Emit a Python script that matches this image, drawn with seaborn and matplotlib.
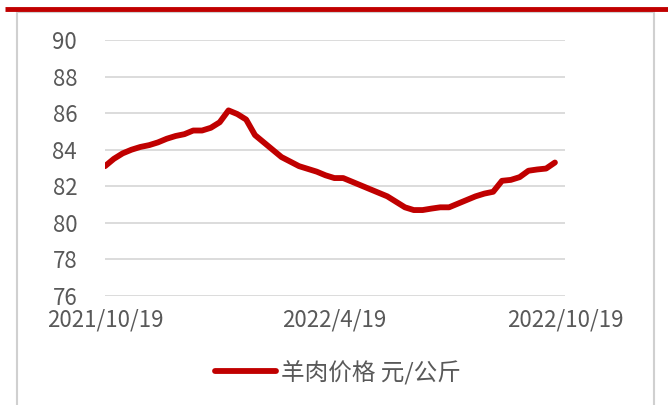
import matplotlib
matplotlib.use("Agg")
import matplotlib.pyplot as plt
import matplotlib.dates as mdates
import pandas as pd
import seaborn as sns

# weekly mutton price, yuan/kg
start_date = "2021-10-19"
prices = [83.1, 83.5, 83.8, 84.0, 84.15, 84.25, 84.4, 84.6, 84.75, 84.85,
          85.05, 85.05, 85.2, 85.5, 86.15, 85.95, 85.65, 84.8, 84.4, 84.0,
          83.6, 83.35, 83.1, 82.95, 82.8, 82.6, 82.45, 82.45, 82.25, 82.05,
          81.85, 81.65, 81.45, 81.15, 80.85, 80.7, 80.7, 80.78, 80.85, 80.85,
          81.05, 81.25, 81.45, 81.6, 81.7, 82.3, 82.35, 82.5, 82.85, 82.92,
          82.97, 83.3]
tick_dates = ["2021-10-19", "2022-04-19", "2022-10-19"]
tick_labels = ["2021/10/19", "2022/4/19", "2022/10/19"]
y_ticks = [76, 78, 80, 82, 84, 86, 88, 90]
series_name = "羊肉价格 元/公斤"

data = pd.DataFrame({
    "date": pd.date_range(start_date, periods=len(prices), freq="7D"),
    "price": prices,
})

sns.set_theme(style="white")
plt.rcParams["font.family"] = ["Noto Sans CJK SC", "DejaVu Sans"]

red = "#C00000"
grey_text = "#595959"

fig = plt.figure(figsize=(6.68, 4.05), dpi=100)
ax = fig.add_axes([105 / 668, 1 - 296 / 405, 460 / 668, 256 / 405])

sns.lineplot(data=data, x="date", y="price", ax=ax, color=red,
             linewidth=4.2, label=series_name, legend=False)

ax.set_ylim(76, 90)
ax.set_yticks(y_ticks)
ax.set_xlim(pd.Timestamp(tick_dates[0]), pd.Timestamp(tick_dates[-1]))
ax.set_xticks([mdates.date2num(pd.Timestamp(d)) for d in tick_dates])
ax.set_xticklabels(tick_labels)
ax.set_xlabel("")
ax.set_ylabel("")

ax.grid(axis="y", color="#D9D9D9", linewidth=1.3)
ax.set_axisbelow(True)
for side in ["top", "right", "bottom", "left"]:
    ax.spines[side].set_visible(False)
ax.tick_params(axis="y", length=0, pad=20, labelsize=16, labelcolor=grey_text)
ax.tick_params(axis="x", length=0, pad=9, labelsize=16, labelcolor=grey_text)

# outer frame and red header bar
frame = dict(color="#D0D0D0", linewidth=1.5)
fig.add_artist(plt.Line2D([17 / 668, 17 / 668], [0, 1 - 11 / 405], **frame))
fig.add_artist(plt.Line2D([654 / 668, 654 / 668], [0, 1 - 11 / 405], **frame))
fig.add_artist(plt.Line2D([17 / 668, 654 / 668], [1 - 12 / 405, 1 - 12 / 405], **frame))
fig.add_artist(plt.Line2D([5 / 668, 1], [1 - 9 / 405, 1 - 9 / 405],
                          color=red, linewidth=3.5, solid_capstyle="butt"))

handles, labels = ax.get_legend_handles_labels()
fig.legend(handles, labels, loc="center", bbox_to_anchor=(338 / 668, 1 - 372 / 405),
           frameon=False, fontsize=17, handlelength=2.6, handletextpad=0.2,
           labelcolor=grey_text)

fig.savefig("out.png", dpi=100)
